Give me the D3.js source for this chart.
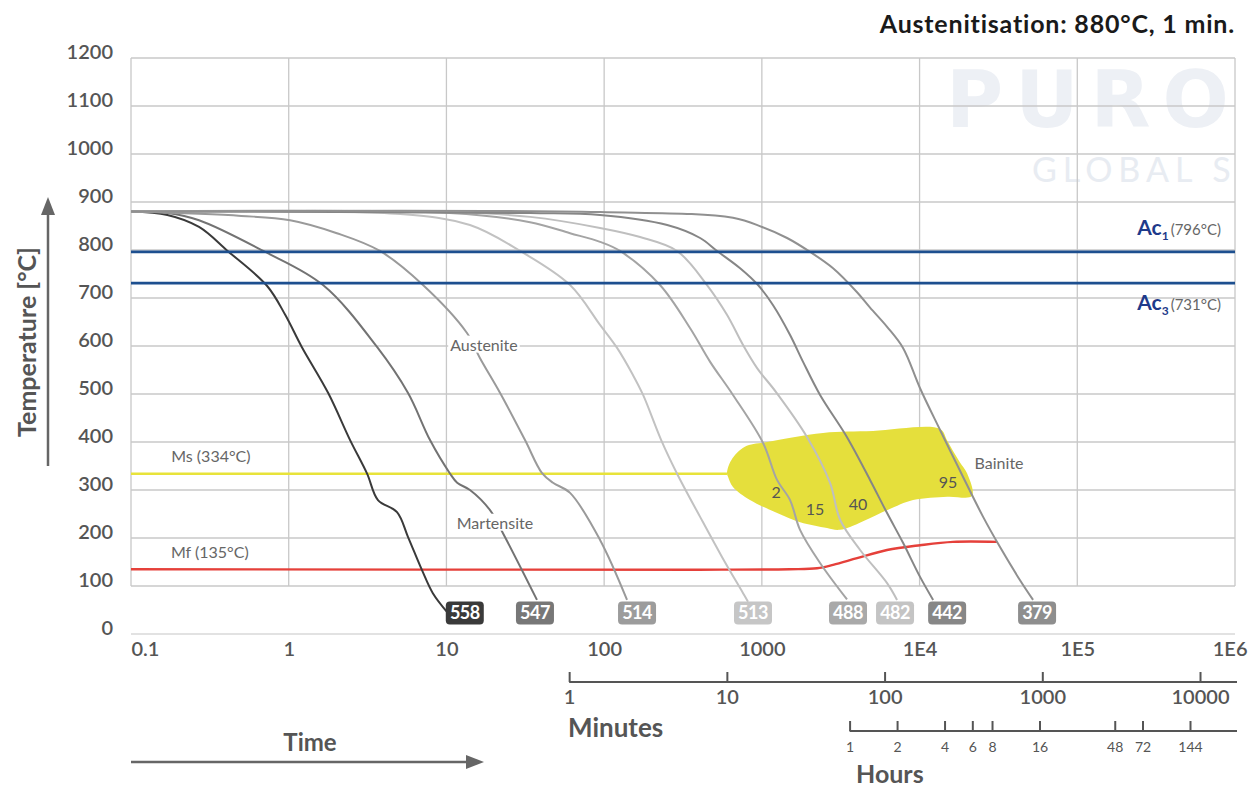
<!DOCTYPE html>
<html>
<head>
<meta charset="utf-8">
<script src="https://cdn.jsdelivr.net/npm/d3@7"></script>
<style>
  body { margin: 0; background: #fff; }
  text { font-family: Lato, "Open Sans", sans-serif; }
</style>
</head>
<body>
<div id="chart"></div>
<script>
// CCT diagram - cooling curves, time on log scale (seconds)

const hardness = [558, 547, 514, 513, 488, 482, 442, 379];

// [time in s, temperature in °C]
const curve558 = [[0.1,880],[0.17,873],[0.27,848],[0.41,798],[0.73,725],[0.95,665],[1.21,598],[1.78,502],[2.45,404],[3.14,334],[3.68,279],[4.86,254],[5.71,202],[7.0,133],[8.2,85],[10.2,44]];
const curve547 = [[0.1,880],[0.17,877],[0.27,862],[0.69,798],[1.65,727],[3.63,598],[5.71,502],[7.87,404],[10.5,335],[11.7,315],[14.1,300],[18.9,258],[23.5,202],[37.5,71]];
const curve514 = [[0.1,880],[0.5,871],[1.02,862],[2.02,835],[3.79,798],[7.1,727],[13.5,627],[16.3,575],[21.9,502],[31.5,404],[40.4,335],[47.4,315],[60.8,294],[94.2,196],[139.7,71]];
const curve513 = [[0.1,880],[5.1,875],[14.1,852],[29.3,798],[60.8,727],[94.2,644],[120.8,596],[152,540],[176.6,498],[230,404],[290,334],[406,244],[560,160],[760,85],[817,67]];
const curve488 = [[0.1,880],[10.5,877],[33.9,858],[60.8,835],[94.2,817],[126,798],[226,727],[351,637],[470,567],[656,498],[1018,398],[1248,321],[1510,279],[1746,217],[2339,148],[3467,72]];
const curve482 = [[0.1,880],[10.5,879],[33.9,869],[94.2,846],[169,827],[290,798],[449,727],[601,665],[760,602],[933,554],[1230,504],[1936,410],[2706,315],[3133,238],[4198,175],[6223,106],[7197,71]];
const curve442 = [[0.1,880],[33.9,877],[94.2,873],[251,852],[406,825],[520,798],[728,762],[946,727],[1178,685],[1510,623],[1825,567],[2339,498],[3467,410],[4853,321],[6223,252],[7855,190],[10070,119],[12190,71]];
const curve379 = [[0.1,880],[94.2,879],[656,867],[1003,848],[1445,825],[2022,796],[2828,762],[4015,712],[4853,680],[6223,640],[7855,596],[10070,512],[13490,425],[18880,327],[25290,244],[32370,181],[43350,112],[52440,71]];
const curves = [curve558, curve547, curve514, curve513, curve488, curve482, curve442, curve379];

const ac1 = 796, ac3 = 731, ms = 334, mf = 135;
const msLine = [[0.1,334],[601,334]];
const mfLine = [[0.1,135],[400,134],[1500,135],[2240,137],[2830,144],[4015,158],[6220,175],[10070,185],[16300,192],[31000,192]];
const bainiteArea = [[601,335],[640,362],[780,390],[1079,400],[2443,419],[5070,423],[13490,427],[14900,404],[16300,381],[18000,358],[20000,335],[21500,288],[15000,286],[9100,279],[6220,258],[3130,217],[2590,221],[1750,233],[1250,252],[841,279],[656,306],[611,327]];
const bainitePct = [[1230,294,"2"],[2175,260,"15"],[4074,271,"40"],[15170,315,"95"]];

const yTicks = d3.range(0, 1201, 100);
const xTicks = [0.1, 1, 10, 100, 1000, 1e4, 1e5, 1e6];
const xTickLabels = ["0.1", "1", "10", "100", "1000", "1E4", "1E5", "1E6"];
const minuteTicks = [1, 10, 100, 1000, 10000];
const hourTicks = [1, 2, 4, 6, 8, 16, 48, 72, 144];

const W = 1251, H = 791;
const svg = d3.select("#chart").append("svg").attr("width", W).attr("height", H);

const x = d3.scaleLog().domain([0.1, 1e6]).range([131, 1235]);
const y = d3.scaleLinear().domain([0, 1200]).range([634, 58]);

// watermark
svg.append("text").attr("x", 946).attr("y", 127)
  .style("font-family", "'DejaVu Sans'").style("font-weight", "bold")
  .attr("font-size", 78).attr("letter-spacing", 12).attr("fill", "#edf0f5").text("PURO");
svg.append("text").attr("x", 1032).attr("y", 182)
  .attr("font-size", 34).attr("letter-spacing", 6)
  .attr("fill", "#e8ecf2").text("GLOBAL S");

// grid
const grid = svg.append("g").attr("stroke", "#c8c8c8").attr("stroke-width", 1.3);
grid.selectAll("line.h").data(yTicks.filter(d => d >= 100)).enter().append("line")
  .attr("x1", x(0.1)).attr("x2", x(1e6))
  .attr("y1", d => y(d)).attr("y2", d => y(d));
grid.selectAll("line.v").data(xTicks).enter().append("line")
  .attr("x1", d => x(d)).attr("x2", d => x(d))
  .attr("y1", y(1200)).attr("y2", y(100));
grid.append("line").attr("x1", x(0.1)).attr("x2", x(1e6))
  .attr("y1", y(0)).attr("y2", y(0)).attr("stroke", "#d8d8d8");

// axes labels
const yAxis = svg.append("g").attr("transform", "translate(113,-6)")
  .call(d3.axisLeft(y).tickValues(yTicks).tickFormat(d3.format("d")).tickSize(0).tickPadding(0));
yAxis.select(".domain").remove();
yAxis.selectAll("text").attr("font-size", 20).attr("fill", "#555").attr("font-weight", 600);

const xAxis = svg.append("g").attr("transform", "translate(0,642)")
  .call(d3.axisBottom(x).tickValues(xTicks).tickFormat((d, i) => xTickLabels[i]).tickSize(0).tickPadding(0));
xAxis.select(".domain").remove();
xAxis.selectAll("text").attr("font-size", 20).attr("fill", "#555").attr("font-weight", 600)
  .attr("text-anchor", (d, i) => i === 0 ? "start" : i === xTicks.length - 1 ? "end" : "middle")
  .attr("dx", (d, i) => i === xTicks.length - 1 ? 12 : 0);

// bainite region
svg.append("path").datum(bainiteArea)
  .attr("d", d3.line().x(d => x(d[0])).y(d => y(d[1])).curve(d3.curveCatmullRomClosed.alpha(0.5)))
  .attr("fill", "#e5df3c");

const line = d3.line().x(d => x(d[0])).y(d => y(d[1])).curve(d3.curveCatmullRom.alpha(0.5));

svg.append("path").datum(msLine).attr("d", line)
  .attr("fill", "none").attr("stroke", "#e8e33a").attr("stroke-width", 2.6);
svg.append("path").datum(mfLine).attr("d", line)
  .attr("fill", "none").attr("stroke", "#e5403a").attr("stroke-width", 2.4);

// cooling curves
const curveColors = ["#3a3a3a", "#737373", "#9a9a9a", "#c2c2c2", "#a4a4a4", "#bfbfbf", "#868686", "#909090"];
const labelColors = ["#3a3a3a", "#777777", "#9c9c9c", "#c6c6c6", "#a9a9a9", "#c4c4c4", "#878787", "#8e8e8e"];
const labelNudge = [17, -2, 10, 5, 1, -2, 14, 4];

svg.append("g").selectAll("path").data(curves).enter().append("path")
  .attr("d", line)
  .attr("fill", "none")
  .attr("stroke", (d, i) => curveColors[i])
  .attr("stroke-width", 2);

// Ac lines
svg.selectAll("line.ac").data([ac1, ac3]).enter().append("line")
  .attr("x1", x(0.1)).attr("x2", x(1e6))
  .attr("y1", d => y(d)).attr("y2", d => y(d))
  .attr("stroke", "#1d4f8f").attr("stroke-width", 2.8);

// hardness labels
const hl = svg.append("g").selectAll("g").data(hardness).enter().append("g")
  .attr("transform", (d, i) => {
    const last = curves[i][curves[i].length - 1];
    return `translate(${x(last[0]) + labelNudge[i]},613)`;
  });
hl.append("rect").attr("x", -19).attr("y", -11.5).attr("width", 38).attr("height", 23).attr("rx", 4)
  .attr("fill", (d, i) => labelColors[i]);
hl.append("text").attr("text-anchor", "middle").attr("dy", "0.36em")
  .attr("font-size", 18).attr("font-weight", 700).attr("fill", "#fff").attr("letter-spacing", -0.5)
  .text(d => d);

// region labels with white background
function regionLabel(t, T, txt, bg) {
  const g = svg.append("g").attr("transform", `translate(${x(t)},${y(T)})`);
  const tx = g.append("text").attr("text-anchor", "middle").attr("dy", "0.35em")
    .attr("font-size", 16).attr("fill", "#666").text(txt);
  if (bg) {
    const b = tx.node().getBBox();
    g.insert("rect", "text").attr("x", b.x - 2).attr("y", b.y + 1).attr("width", b.width + 4).attr("height", b.height - 2).attr("fill", "#fff");
  }
}
regionLabel(17.3, 602, "Austenite", true);
regionLabel(20.3, 231, "Martensite", true);
regionLabel(31920, 356, "Bainite", false);
regionLabel(0.321, 369, "Ms (334°C)", false);
regionLabel(0.316, 169, "Mf (135°C)", false);

svg.append("g").selectAll("text").data(bainitePct).enter().append("text")
  .attr("x", d => x(d[0])).attr("y", d => y(d[1])).attr("dy", "0.35em")
  .attr("text-anchor", "middle").attr("font-size", 16).attr("fill", "#555")
  .text(d => d[2]);

// Ac labels
[[ac1, "1", "(796°C)", 235], [ac3, "3", "(731°C)", 310]].forEach(a => {
  const t = svg.append("text").attr("x", 1221).attr("y", a[3]).attr("text-anchor", "end");
  t.append("tspan").attr("font-size", 21).attr("font-weight", 700).attr("fill", "#1e3a8a").text("Ac");
  t.append("tspan").attr("font-size", 12).attr("font-weight", 700).attr("fill", "#1e3a8a").attr("dy", 5).text(a[1]);
  t.append("tspan").attr("font-size", 15).attr("fill", "#666").attr("dy", -5).attr("dx", 2).text(a[2]);
});

// title
svg.append("text").attr("x", 1235).attr("y", 33).attr("text-anchor", "end")
  .attr("font-size", 25).attr("font-weight", 700).attr("fill", "#1a1a1a").attr("letter-spacing", 0.8)
  .text("Austenitisation: 880°C, 1 min.");

// y title + arrow
svg.append("text").attr("transform", "translate(36,342) rotate(-90)")
  .attr("text-anchor", "middle").attr("font-size", 25).attr("font-weight", 700).attr("fill", "#555")
  .text("Temperature [°C]");
svg.append("line").attr("x1", 48).attr("x2", 48).attr("y1", 466).attr("y2", 212)
  .attr("stroke", "#666").attr("stroke-width", 2.5);
svg.append("path").attr("d", "M48,197 L41,215 L55,215 Z").attr("fill", "#666");

// time title + arrow
svg.append("text").attr("x", 310).attr("y", 751).attr("text-anchor", "middle")
  .attr("font-size", 24).attr("font-weight", 700).attr("fill", "#555").text("Time");
svg.append("line").attr("x1", 131).attr("x2", 468).attr("y1", 762).attr("y2", 762)
  .attr("stroke", "#666").attr("stroke-width", 2.5);
svg.append("path").attr("d", "M484,762 L466,755 L466,769 Z").attr("fill", "#666");

// minutes axis
const xMin = d3.scaleLog().domain([0.1 / 60, 1e6 / 60]).range(x.range());
const minAxis = svg.append("g").attr("transform", "translate(0,682)")
  .call(d3.axisBottom(xMin).tickValues(minuteTicks).tickFormat(d3.format("d"))
    .tickSizeInner(-10).tickSizeOuter(0).tickPadding(8));
minAxis.select(".domain").remove();
minAxis.append("line").attr("x1", xMin(1)).attr("x2", 1237).attr("stroke", "#555").attr("stroke-width", 2);
minAxis.selectAll(".tick line").attr("stroke", "#555").attr("stroke-width", 2);
minAxis.selectAll("text").attr("font-size", 20).attr("fill", "#555").attr("font-weight", 600);
svg.append("text").attr("x", 568).attr("y", 737).attr("font-size", 26).attr("font-weight", 700)
  .attr("fill", "#555").text("Minutes");

// hours axis
const xHr = d3.scaleLog().domain([0.1 / 3600, 1e6 / 3600]).range(x.range());
const hrAxis = svg.append("g").attr("transform", "translate(0,731)")
  .call(d3.axisBottom(xHr).tickValues(hourTicks).tickFormat(d3.format("d"))
    .tickSizeInner(-10).tickSizeOuter(0).tickPadding(11));
hrAxis.select(".domain").remove();
hrAxis.append("line").attr("x1", xHr(1)).attr("x2", 1237).attr("stroke", "#555").attr("stroke-width", 2);
hrAxis.selectAll(".tick line").attr("stroke", "#555").attr("stroke-width", 2);
hrAxis.selectAll("text").attr("font-size", 14).attr("fill", "#555");
svg.append("text").attr("x", 856).attr("y", 783).attr("font-size", 25).attr("font-weight", 700)
  .attr("fill", "#555").text("Hours");
</script>
</body>
</html>
